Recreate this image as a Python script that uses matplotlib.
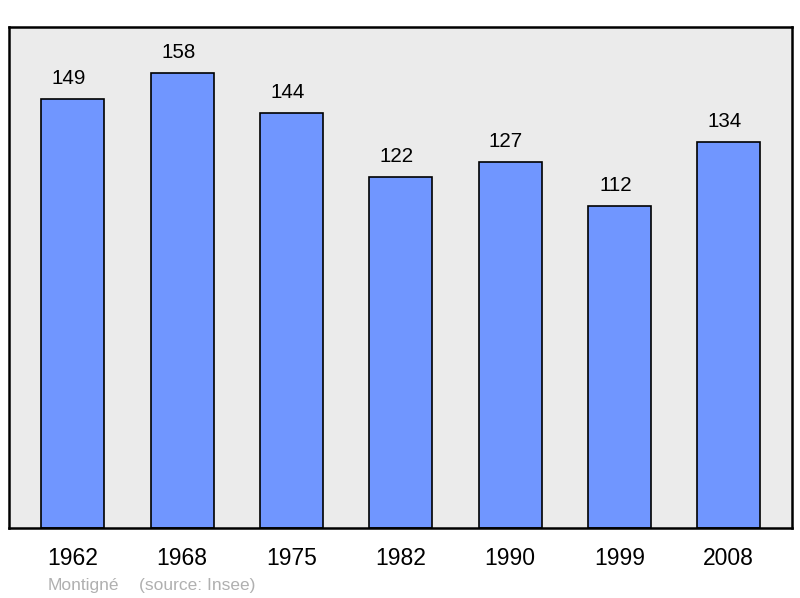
import numpy as np
import matplotlib.pyplot as plt

years = ["1962", "1968", "1975", "1982", "1990", "1999", "2008"]
population = [149, 158, 144, 122, 127, 112, 134]

plt.rcParams['font.family'] = ['Liberation Sans', 'DejaVu Sans']

fig = plt.figure(figsize=(8, 5.98), dpi=100)
# axes box in pixels: left 9, right 792, top 27, bottom 528
ax = fig.add_axes([9/800, 1 - 528/598, 783/800, 501/598])
ax.set_facecolor("#ebebeb")

x = np.arange(len(years))
bars = ax.bar(x, population, width=0.576, color="#7096ff",
              edgecolor="black", linewidth=1.2, zorder=2)

for xi, v in zip(x, population):
    ax.annotate(str(v), (xi, v), xytext=(-4, 15), textcoords="offset pixels",
                ha="center", va="baseline", fontsize=14.8, color="black")

ax.set_xlim(-0.585, 6.58)
ax.set_ylim(0, 174)
ax.set_yticks([])
ax.set_xticks(x)
ax.set_xticklabels(years, fontsize=16.5)
ax.tick_params(axis="x", length=0, pad=14)
for s in ax.spines.values():
    s.set_linewidth(1.8)
    s.set_color("black")

fig.text(48/800, 1 - 590/598, "Montigné", fontsize=12.5, color="#b0b0b0",
         ha="left", va="baseline")
fig.text(139/800, 1 - 590/598, "(source: Insee)", fontsize=12.5, color="#b0b0b0",
         ha="left", va="baseline")

fig.savefig("out.png", dpi=100)
